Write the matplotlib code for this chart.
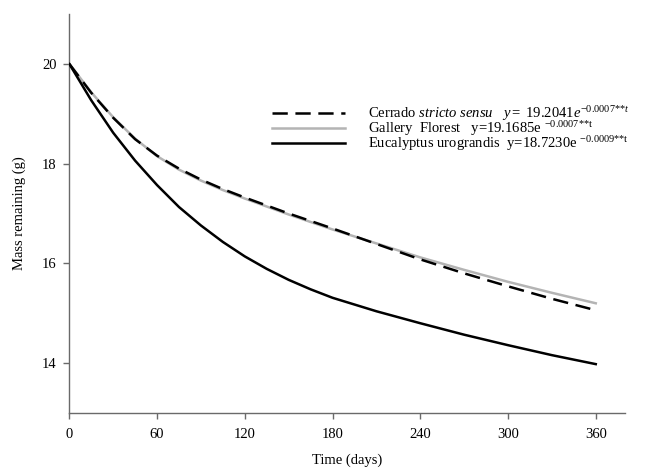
import matplotlib
matplotlib.use("Agg")
import matplotlib.pyplot as plt

plt.rcParams['font.family'] = ['Liberation Serif', 'DejaVu Serif']
plt.rcParams['mathtext.fontset'] = 'custom'
plt.rcParams['mathtext.rm'] = 'Liberation Serif'
plt.rcParams['mathtext.it'] = 'Liberation Serif:italic'
plt.rcParams['lines.scale_dashes'] = False

# values
days = [0, 15, 30, 45, 60, 75, 90, 105, 120, 135, 150, 165, 180, 210, 240, 270, 300, 330, 360]
cerrado = [20, 19.42, 18.92, 18.49, 18.16, 17.9, 17.68, 17.49, 17.32, 17.16, 17.0, 16.85, 16.7,
           16.39, 16.08, 15.8, 15.54, 15.29, 15.06]
gallery = [20, 19.43, 18.93, 18.5, 18.15, 17.88, 17.66, 17.47, 17.3, 17.14, 16.98, 16.83, 16.68,
           16.4, 16.12, 15.87, 15.63, 15.41, 15.2]
eucalyptus = [20, 19.27, 18.62, 18.06, 17.57, 17.13, 16.76, 16.43, 16.14, 15.89, 15.67, 15.48, 15.31,
              15.04, 14.8, 14.57, 14.36, 14.16, 13.98]

labels = [
    r"Cerrado $\mathit{stricto\ sensu}$   $\mathit{y{=}\ 19.2041e}^{\mathit{-0.0007{*}{*}t}}$",
    r"Gallery  Florest   y=19.1685e $^{\mathrm{-0.0007{*}{*}t}}$",
    r"Eucalyptus urograndis  y=18.7230e $^{\mathrm{-0.0009{*}{*}t}}$",
]
xticks = [0, 60, 120, 180, 240, 300, 360]
yticks = [14, 16, 18, 20]

fig = plt.figure(figsize=(6.46, 4.75), dpi=100)
ax = fig.add_axes([69.3 / 646, 62 / 475, (625 - 69.3) / 646, (413 - 14) / 475])

h1, = ax.plot(days, cerrado, color='black', lw=1.8, dashes=[11, 5.5], zorder=4)
h2, = ax.plot(days, gallery, color='#b4b4b4', lw=1.8, zorder=3)
h3, = ax.plot(days, eucalyptus, color='black', lw=1.8, zorder=3)

ax.set_xlim(0, 380)
ax.set_ylim(13, 21)
ax.set_xticks(xticks)
ax.set_yticks(yticks)
ax.spines['top'].set_visible(False)
ax.spines['right'].set_visible(False)
for s in ['left', 'bottom']:
    ax.spines[s].set_color('#6a6a6a')
    ax.spines[s].set_linewidth(1.0)
ax.tick_params(direction='out', length=4, width=1.0, color='#6a6a6a', labelsize=10.5, pad=5)
ax.tick_params(axis='x', pad=7)

ax.set_xlabel("Time (days)", fontsize=10.5, labelpad=9)
ax.set_ylabel("Mass remaining (g)", fontsize=10.5, labelpad=12)

ax.legend([h1, h2, h3], labels, frameon=False, fontsize=10.5,
          loc='upper left', bbox_to_anchor=(272 / 646, 1 - 104 / 475),
          bbox_transform=fig.transFigure, borderpad=0, borderaxespad=0,
          handlelength=5.0, handletextpad=1.6, labelspacing=-0.25)

fig.savefig("out.png", dpi=100)
